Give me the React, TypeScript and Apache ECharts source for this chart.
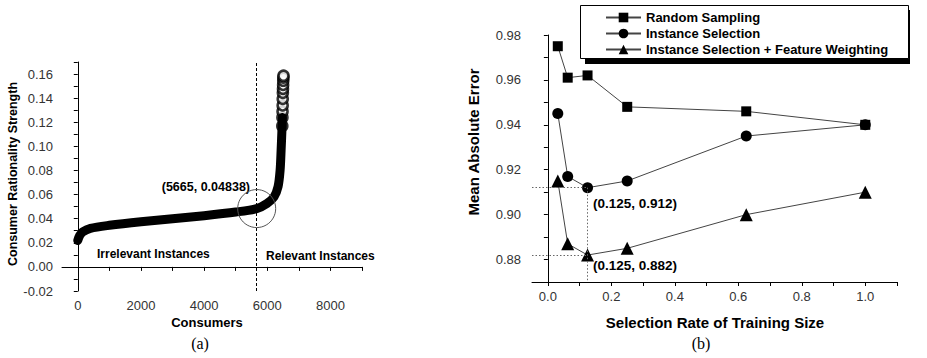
import React, { useEffect, useRef } from "react";
import * as echarts from "echarts";

// ---- Chart (a): consumer rationality strength curve ----
const curveX = [0, 60, 150, 400, 1000, 2000, 3000, 4000, 5000, 5665, 5990, 6215, 6343, 6406, 6438, 6470, 6480];
const curveY = [0.022, 0.026, 0.029, 0.032, 0.0345, 0.0375, 0.0400, 0.0425, 0.0455, 0.04838, 0.0526, 0.0581, 0.0667, 0.0799, 0.0965, 0.117, 0.124];
const topX = [6476, 6480, 6484, 6488, 6490, 6494, 6498, 6502, 6506, 6510, 6514];
const topY = [0.117, 0.124, 0.129, 0.134, 0.1394, 0.1444, 0.1477, 0.151, 0.1545, 0.157, 0.1586];
const cutX = 5665;
const cutY = 0.04838;
const leftXTicks = [0, 1000, 2000, 3000, 4000, 5000, 6000, 7000, 8000, 9000];
const leftXLabels = [0, 2000, 4000, 6000, 8000];
const leftYTicks = [-0.02, -0.01, 0, 0.01, 0.02, 0.03, 0.04, 0.05, 0.06, 0.07, 0.08, 0.09, 0.1, 0.11, 0.12, 0.13, 0.14, 0.15, 0.16, 0.17];
const leftYLabels = [-0.02, 0, 0.02, 0.04, 0.06, 0.08, 0.1, 0.12, 0.14, 0.16];

// ---- Chart (b): mean absolute error vs selection rate ----
const rates = [0.03125, 0.0625, 0.125, 0.25, 0.625, 1.0];
const randomSampling = [0.975, 0.961, 0.962, 0.948, 0.946, 0.940];
const instanceSelection = [0.945, 0.917, 0.912, 0.915, 0.935, 0.940];
const isFeatureWeighting = [0.915, 0.887, 0.882, 0.885, 0.900, 0.910];
const seriesNames = ["Random Sampling", "Instance Selection", "Instance Selection + Feature Weighting"];
const rightXTicks = [0, 0.1, 0.2, 0.3, 0.4, 0.5, 0.6, 0.7, 0.8, 0.9, 1.0, 1.1];
const rightXLabels = [0, 0.2, 0.4, 0.6, 0.8, 1.0];
const rightYTicks = [0.87, 0.88, 0.89, 0.9, 0.91, 0.92, 0.93, 0.94, 0.95, 0.96, 0.97, 0.98];
const rightYLabels = [0.88, 0.9, 0.92, 0.94, 0.96, 0.98];
const bestRate = 0.125;
const bestIS = 0.912;
const bestISFW = 0.882;

const FONT = "Liberation Sans, Arial, sans-serif";

export default function App() {
  const ref = useRef<HTMLDivElement>(null);
  useEffect(() => {
    if (!ref.current) return;
    const chart = echarts.init(ref.current, undefined, { renderer: "svg" });
    const axisLine = { show: true, lineStyle: { color: "#000", width: 1 } };
    const tickLabel = (margin: number, digits: number) => ({
      color: "#333",
      fontSize: 13,
      fontFamily: FONT,
      margin,
      formatter: (v: number) => Number(v).toFixed(digits),
    });
    const lineStyleB = { color: "#444", width: 1 };
    const dotted = { color: "#666", width: 1, type: [1.5, 2] as any };

    chart.setOption({
      animation: false,
      textStyle: { fontFamily: FONT },
      grid: [
        { left: 62, right: 565, top: 62, bottom: 67 },
        { left: 532, right: 30, top: 35, bottom: 76 },
      ],
      xAxis: [
        {
          type: "value", gridIndex: 0, min: -500, max: 9000,
          axisLine, splitLine: { show: false },
          axisTick: { show: true, length: 4, customValues: leftXTicks, lineStyle: { color: "#000" } },
          axisLabel: { ...tickLabel(8, 0), customValues: leftXLabels },
        },
        {
          type: "value", gridIndex: 1, min: -0.05, max: 1.1,
          axisLine, splitLine: { show: false },
          axisTick: { show: true, length: 4, customValues: rightXTicks, lineStyle: { color: "#000" } },
          axisLabel: { ...tickLabel(8, 1), customValues: rightXLabels },
        },
      ],
      yAxis: [
        {
          type: "value", gridIndex: 0, min: -0.02, max: 0.17,
          axisLine, splitLine: { show: false },
          axisTick: { show: true, length: 4, customValues: leftYTicks, lineStyle: { color: "#000" } },
          axisLabel: { ...tickLabel(9, 2), customValues: leftYLabels },
        },
        {
          type: "value", gridIndex: 1, min: 0.87, max: 0.98,
          axisLine, splitLine: { show: false },
          axisTick: { show: true, length: 4, customValues: rightYTicks, lineStyle: { color: "#000" } },
          axisLabel: { ...tickLabel(11, 2), customValues: rightYLabels },
        },
      ],
      legend: {
        orient: "vertical",
        left: 580,
        top: 5,
        padding: [6, 10, 2, 25],
        itemWidth: 35,
        itemHeight: 12,
        itemGap: 3,
        data: seriesNames,
        textStyle: { fontSize: 13, fontWeight: "bold", color: "#000", fontFamily: FONT },
      },
      series: [
        {
          type: "line", name: "curve", xAxisIndex: 0, yAxisIndex: 0,
          data: curveX.map((x, i) => [x, curveY[i]]),
          smooth: 0.3,
          showSymbol: false,
          lineStyle: { color: "#000", width: 9, cap: "round", join: "round" },
          markLine: {
            silent: true, symbol: "none", label: { show: false },
            lineStyle: { color: "#000", width: 1, type: [3, 2] as any },
            data: [{ xAxis: cutX }],
          },
          markPoint: {
            silent: true,
            symbol: "circle",
            symbolSize: 38,
            itemStyle: { color: "rgba(0,0,0,0)", borderColor: "#555", borderWidth: 1 },
            label: { show: false },
            data: [{ coord: [cutX, cutY] }],
          },
        },
        {
          type: "scatter", name: "top", xAxisIndex: 0, yAxisIndex: 0,
          data: topX.map((x, i) => [x, topY[i]]),
          symbol: "circle", symbolSize: 10,
          itemStyle: { color: "#fff", borderColor: "#000", borderWidth: 2.6 },
        },
        {
          type: "line", name: seriesNames[0], xAxisIndex: 1, yAxisIndex: 1,
          data: rates.map((x, i) => [x, randomSampling[i]]),
          symbol: "rect", symbolSize: 10,
          itemStyle: { color: "#000" }, lineStyle: lineStyleB,
        },
        {
          type: "line", name: seriesNames[1], xAxisIndex: 1, yAxisIndex: 1,
          data: rates.map((x, i) => [x, instanceSelection[i]]),
          symbol: "circle", symbolSize: 11,
          itemStyle: { color: "#000" }, lineStyle: lineStyleB,
          markLine: {
            silent: true, symbol: "none", label: { show: false },
            lineStyle: dotted,
            data: [
              [{ coord: [-0.05, bestIS] }, { coord: [bestRate, bestIS] }],
              [{ coord: [bestRate, bestIS] }, { coord: [bestRate, 0.87] }],
              [{ coord: [-0.05, bestISFW] }, { coord: [bestRate, bestISFW] }],
            ],
          },
        },
        {
          type: "line", name: seriesNames[2], xAxisIndex: 1, yAxisIndex: 1,
          data: rates.map((x, i) => [x, isFeatureWeighting[i]]),
          symbol: "triangle", symbolSize: 13,
          itemStyle: { color: "#000" }, lineStyle: lineStyleB,
        },
      ],
      graphic: [
        { type: "rect", shape: { x: 585, y: 10, width: 325, height: 54 }, style: { fill: "#000" }, z: 0 },
        { type: "rect", shape: { x: 580.5, y: 5.5, width: 328, height: 53 }, style: { fill: "#fff", stroke: "#000", lineWidth: 1 }, z: 1 },
        {
          type: "text", x: 13, y: 174, rotation: Math.PI / 2,
          style: { text: "Consumer Rationality Strength", font: `bold 12.5px ${FONT}`, fill: "#000", textAlign: "center", textVerticalAlign: "middle" },
        },
        {
          type: "text", x: 207, y: 322,
          style: { text: "Consumers", font: `bold 13px ${FONT}`, fill: "#000", textAlign: "center", textVerticalAlign: "middle" },
        },
        {
          type: "text", x: 200, y: 343,
          style: { text: "(a)", font: `16px Liberation Serif, Times New Roman, serif`, fill: "#000", textAlign: "center", textVerticalAlign: "middle" },
        },
        {
          type: "text", x: 250, y: 187,
          style: { text: "(5665, 0.04838)", font: `bold 12.5px ${FONT}`, fill: "#000", textAlign: "right", textVerticalAlign: "middle" },
        },
        {
          type: "text", x: 97, y: 254,
          style: { text: "Irrelevant Instances", font: `bold 12px ${FONT}`, fill: "#000", textAlign: "left", textVerticalAlign: "middle" },
        },
        {
          type: "text", x: 266, y: 256,
          style: { text: "Relevant Instances", font: `bold 12px ${FONT}`, fill: "#000", textAlign: "left", textVerticalAlign: "middle" },
        },
        {
          type: "text", x: 473, y: 142, rotation: Math.PI / 2,
          style: { text: "Mean Absolute Error", font: `bold 15px ${FONT}`, fill: "#000", textAlign: "center", textVerticalAlign: "middle" },
        },
        {
          type: "text", x: 715, y: 322,
          style: { text: "Selection Rate of Training Size", font: `bold 15px ${FONT}`, fill: "#000", textAlign: "center", textVerticalAlign: "middle" },
        },
        {
          type: "text", x: 701, y: 343,
          style: { text: "(b)", font: `16px Liberation Serif, Times New Roman, serif`, fill: "#000", textAlign: "center", textVerticalAlign: "middle" },
        },
        {
          type: "text", x: 593, y: 203,
          style: { text: "(0.125, 0.912)", font: `bold 13.5px ${FONT}`, fill: "#000", textAlign: "left", textVerticalAlign: "middle" },
        },
        {
          type: "text", x: 593, y: 265,
          style: { text: "(0.125, 0.882)", font: `bold 13.5px ${FONT}`, fill: "#000", textAlign: "left", textVerticalAlign: "middle" },
        },
      ],
    });
    return () => chart.dispose();
  }, []);
  return (
    <div
      ref={ref}
      style={{ position: "fixed", left: 0, top: 0, width: 927, height: 358, background: "#fff" }}
    />
  );
}
